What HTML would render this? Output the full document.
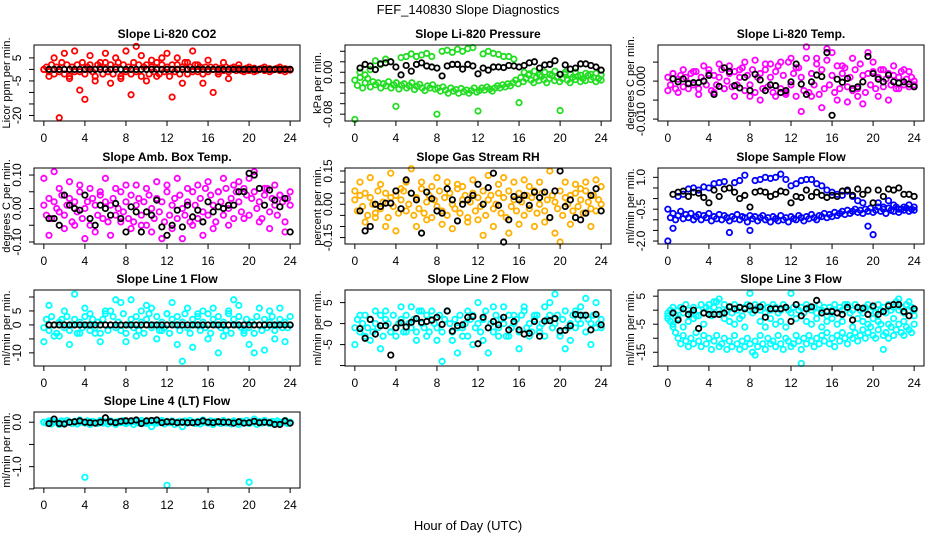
<!DOCTYPE html>
<html><head><meta charset="utf-8"><style>
html,body{margin:0;padding:0;background:#fff;}
svg{display:block;font-family:"Liberation Sans",Arial,sans-serif;}
</style></head><body>
<svg id="chart" width="936" height="540" viewBox="0 0 936 540" xmlns="http://www.w3.org/2000/svg">
<rect width="936" height="540" fill="#fff"/>
<text x="468" y="14" text-anchor="middle" font-size="13">FEF_140830  Slope Diagnostics</text>
<text x="468" y="530" text-anchor="middle" font-size="13">Hour of Day (UTC)</text>
</svg>
<script>
// x tick labels (hours)
const xTicks = [0,4,8,12,16,20,24];
// panel titles / y-axis titles
const titles = ["Slope Li-820 CO2","Slope Li-820 Pressure","Slope Li-820 Temp.","Slope Amb. Box Temp.","Slope Gas Stream RH","Slope Sample Flow","Slope Line 1 Flow","Slope Line 2 Flow","Slope Line 3 Flow","Slope Line 4 (LT) Flow"];
const yTitles = ["Licor ppm per min.","kPa per min.","degrees C per min.","degrees C per min.","percent per min.","ml/min per min.","ml/min per min.","ml/min per min.","ml/min per min.","ml/min per min."];
const yDomains = [[-22.4,10.6],[-0.093,0.052],[-0.0105,0.0095],[-0.106,0.121],[-0.179,0.1635],[-2.14,1.44],[-14.7,12.5],[-10.1,8.0],[-19.9,7.2],[-1.48,0.23]];
const yTicks = [[-20,-15,-10,-5,0,5],[-0.08,-0.06,-0.04,-0.02,0,0.02,0.04],[-0.01,-0.005,0,0.005],[-0.1,-0.05,0,0.05,0.1],[-0.15,-0.1,-0.05,0,0.05,0.1,0.15],[-2,-1.5,-1,-0.5,0,0.5,1],[-10,-5,0,5,10],[-10,-5,0,5],[-20,-15,-10,-5,0,5],[-1.5,-1,-0.5,0]];
const yTickLabelVals = [[5,-5,-20],[0,-0.08],[0,-0.01],[-0.1,0,0.1],[-0.15,0,0.15],[-2,-0.5,1],[-10,0,5],[-5,0,5],[-15,-5,5],[0,-1]];
const yTickLabelText = [["5","-5","-20"],["0.00","-0.08"],["0.000","-0.010"],["-0.10","0.00","0.10"],["-0.15","0.00","0.15"],["-2.0","-0.5","1.0"],["-10","0","5"],["-5","0","5"],["-15","-5","5"],["0.0","-1.0"]];
const colors = ["#ff0000","#22dd22","#ff00ff","#ff00ff","#ffb000","#0000ff","#00ffff","#00ffff","#00ffff","#00ffff"];

// coloured series: evenly spread over 0..24 h
const co2A=[0,1,-1,2,-2,1,-1,3,-2,2,-3,1,-1,2,-1,3,-2,1,2,-1,-3,2,1,-2,3,-1,2,-2,1,3,-3,2,-1,1,-2,3,-1,2,-3,1,2,-2,1,-1,3,-2,2,-1,1,-3,2,-1,2,-2,1,3,-2,1,-1,2,-1,1,-2,1,-1,1,0,1,-1,0.5,-0.5,1,-1,0.5,0,-0.5,0.5,-0.5,0,0.5,-0.5,0,0.5,-0.5,0,0.5,-0.5,0,0.3,-0.3,0,0.5,-0.5,0,0.3,0,-0.3];
const co2B=[0,-3,5,-21,7,-4,8,-9,-13,6,-5,3,7,-6,5,-4,8,-11,10,6,-5,4,-3,5,7,-12,5,-6,3,8,2,-6,4,-10,-2,3,-4,1,2,-1,1,-1,0,1,-1,0,1,-1,0];
const co2K=[0,0,0,0,0,0,0,0,0,0,0,0,0,0,0,0,0,0,0,0,0,0,0,0,0,0,0,0,0,0,0,0,0,0,0,0,0,0,0,0,0,0,0,0,0,0,0,0];
const presA=[-0.015,-0.025,-0.01,-0.03,-0.02,-0.012,-0.028,-0.018,-0.024,-0.02,-0.03,-0.022,-0.026,-0.018,-0.03,-0.024,-0.02,-0.032,-0.025,-0.022,-0.03,-0.026,-0.02,-0.033,-0.027,-0.023,-0.03,-0.035,-0.026,-0.03,-0.024,-0.032,-0.03,-0.036,-0.028,-0.034,-0.04,-0.03,-0.036,-0.033,-0.04,-0.031,-0.037,-0.034,-0.04,-0.035,-0.03,-0.038,-0.035,-0.03,-0.034,-0.028,-0.032,-0.036,-0.03,-0.026,-0.03,-0.024,-0.028,-0.022,-0.026,-0.02,-0.015,-0.022,-0.01,-0.018,-0.012,-0.005,-0.015,-0.02,-0.01,-0.016,-0.008,-0.014,-0.02,-0.012,-0.006,-0.016,-0.01,-0.018,-0.012,-0.004,-0.015,-0.02,-0.01,-0.014,-0.008,-0.018,-0.012,-0.016,-0.006,-0.014,-0.01,-0.018,-0.012,-0.015];
const presB=[-0.09,0.0,-0.005,0.005,0.022,0.015,0.025,0.02,-0.065,0.028,0.03,0.035,0.03,0.033,0.036,0.03,-0.08,0.04,0.042,0.038,0.044,0.04,0.045,0.047,-0.074,0.035,0.04,0.036,0.034,0.03,0.03,0.025,-0.058,0.0,-0.003,0.002,-0.005,0.0,-0.004,0.002,-0.073,0.0,-0.004,0.0,-0.006,-0.002,-0.004,-0.002,-0.005];
const presK=[0.008,0.015,0.012,0.005,0.016,0.018,0.02,0.01,-0.005,0.013,0.002,0.015,0.018,0.012,0.01,0.008,-0.007,0.012,0.015,0.015,0.006,0.015,0.012,-0.003,0.008,0.004,0.01,0.01,0.009,0.013,0.012,0.01,0.013,0.018,0.02,0.008,0.014,0.015,0.022,-0.004,0.014,0.006,0.008,0.016,0.016,0.013,0.01,0.004];
const tempA=[0.001,-0.001,0.002,-0.002,0.0005,0.0015,-0.0015,0.001,-0.0005,0.002,-0.001,0.0025,-0.002,0.001,0,-0.001,0.002,-0.0025,0.0015,-0.001,0.001,0.003,-0.002,0,0.002,-0.0015,0.0025,-0.001,0.001,0.0035,-0.0025,0.0015,-0.001,0.003,-0.003,0.001,0.002,-0.002,0.0045,-0.0015,0.001,-0.003,0.0025,0.004,-0.002,0.0015,-0.0035,0.005,-0.001,0.002,-0.004,0.0035,0.001,-0.0025,0.006,-0.003,0.002,-0.001,0.0045,-0.0035,0.003,-0.002,0.0055,-0.001,0.0015,-0.003,0.004,-0.002,0.002,0.0035,-0.0015,0.001,-0.0025,0.003,-0.002,0.0045,0.0015,-0.003,0.002,-0.001,0.0025,-0.002,0.001,0.003,-0.0015,0.0005,0.002,-0.001,0.0015,-0.002,0.001,0.0025,-0.001,0.0005,-0.0015,0.001,0];
const tempB=[-0.0025,0.002,-0.003,0.003,-0.002,0.0025,-0.0035,0.004,0.003,-0.003,0.0045,-0.002,0.004,-0.004,0.003,0.005,-0.004,0.0055,-0.005,0.003,0.0045,-0.004,0.005,-0.003,0.006,0.0035,-0.008,0.009,-0.004,0.006,-0.007,0.0085,0.0075,-0.005,0.004,-0.0055,0.006,-0.004,-0.006,0.0075,0.005,-0.004,0.003,-0.005,0.004,-0.002,0.003,0.0025,-0.001];
const tempK=[0.0006,-0.0002,0.0006,-0.0007,-0.0004,-0.0004,0,0.0015,-0.0035,-0.0014,0.0035,0.0025,-0.0012,-0.0018,0.001,-0.0025,0.0018,0.0003,-0.0025,-0.001,-0.0012,-0.003,-0.0025,-0.0002,0.0045,-0.0008,-0.0035,-0.0002,0.0016,0.0012,0.0075,-0.009,0.0005,-0.0003,0.0007,-0.002,-0.0015,-0.0002,0.0065,0.002,0.0005,-0.0002,0.0016,-0.0002,-0.0005,-0.0002,-0.0008,-0.0015];
const ambA=[0.01,-0.02,0.03,-0.03,0.02,0,-0.01,0.04,-0.02,0.01,0.03,-0.04,0.02,-0.01,0.05,-0.03,0,0.02,-0.05,0.03,0.01,-0.02,0.04,-0.03,0.02,-0.04,0.01,0.03,-0.02,0,0.05,-0.01,0.02,-0.03,0.04,-0.04,0.01,0.03,-0.02,0.02,-0.05,0.04,0,-0.03,0.03,-0.01,0.02,-0.04,0.05,-0.02,0.01,0.03,-0.03,0.04,0,-0.02,0.02,-0.04,0.05,0.01,-0.03,0.03,-0.01,0.06,-0.02,0.04,0.01,-0.04,0.05,0.02,-0.02,0.06,0,0.03,-0.03,0.05,0.02,-0.01,0.06,0.04,-0.02,0.03,0.05,0,0.02,-0.03,0.04,0.06,-0.01,0.03,0.01,-0.02,0.04,0.02,-0.04,0.03,0.01];
const ambB=[0.09,-0.08,0.11,0.06,-0.06,0.08,-0.05,0.07,-0.09,0.06,-0.07,0.05,0.09,-0.08,0.06,-0.04,0.07,-0.06,0.07,-0.05,0.06,-0.07,0.08,-0.09,0.07,-0.06,0.09,-0.09,0.06,-0.05,0.07,-0.08,0.08,-0.06,0.05,0.09,-0.05,0.07,0.08,-0.03,0.09,0.11,-0.04,0.06,-0.06,0.07,0.04,-0.07,0.05];
const ambK=[-0.03,-0.03,-0.05,0.04,0.01,0,-0.005,0.04,-0.03,-0.05,0.01,0,-0.02,0.015,-0.03,-0.07,0.005,-0.01,-0.07,-0.01,-0.02,0.025,-0.055,-0.08,-0.05,-0.005,-0.055,0.01,-0.025,-0.005,-0.04,0.02,-0.01,0.005,0,0.01,0.01,0.05,0.05,0.105,0.1,0.06,0.01,0.055,0.025,0.005,0.03,-0.07];
const rhA=[0.02,-0.03,0.04,-0.01,0.05,-0.05,0.03,0,-0.04,0.06,-0.02,0.01,0.05,-0.06,0.03,-0.01,0.04,-0.04,0.02,0.06,-0.03,0,0.05,-0.05,0.03,-0.02,0.07,-0.04,0.01,0.04,-0.06,0.02,-0.01,0.06,-0.03,0.03,-0.05,0.05,0,-0.02,0.07,-0.04,0.02,0.04,-0.06,0.01,0.05,-0.03,0.03,-0.01,0.06,-0.05,0.02,0.04,-0.02,0,0.05,-0.04,0.03,-0.06,0.06,-0.01,0.02,-0.03,0.05,0.01,-0.05,0.04,-0.02,0.03,0.06,-0.04,0,0.05,-0.03,0.02,-0.06,0.04,0.01,-0.02,0.06,-0.05,0.03,0,0.04,-0.03,0.05,-0.01,0.02,-0.04,0.06,0.01,-0.02,0.04,-0.03,0.02,0];
const rhB=[0.06,0.1,-0.08,0.12,-0.06,0.09,-0.1,0.14,-0.12,0.07,0.1,0.16,-0.1,0.1,-0.07,0.08,0.12,-0.09,0.1,-0.11,0.09,0.08,-0.08,0.11,-0.07,-0.14,0.13,-0.1,0.09,0.12,-0.13,0.1,-0.09,0.11,0.08,-0.1,0.1,-0.08,0.15,-0.13,-0.17,0.1,-0.09,0.09,0.07,0.1,-0.1,0.11,0.08];
const rhK=[-0.03,-0.12,-0.1,0,-0.01,0.005,0.005,0.06,-0.02,0.11,0.05,0.02,-0.13,0.055,0.025,-0.03,-0.04,0.07,0.02,-0.075,0,0.02,0.04,0.09,0,0.075,0.14,-0.005,-0.17,-0.07,0.035,0.02,0.04,-0.005,0.055,0.03,0.055,-0.06,0.06,0.15,-0.01,0.02,-0.06,-0.07,-0.04,0.04,0.07,-0.03];
const flowA=[-0.5,-0.9,-0.7,-1.0,-0.8,-0.6,-0.95,-0.75,-0.9,-0.7,-1.0,-0.85,-0.75,-1.0,-0.8,-0.9,-0.7,-1.05,-0.85,-0.95,-0.75,-1.0,-0.8,-0.9,-1.05,-0.85,-0.95,-0.75,-1.0,-0.85,-0.9,-1.1,-0.8,-0.95,-0.85,-1.05,-0.9,-0.8,-1.0,-0.9,-1.1,-0.85,-0.95,-1.05,-0.8,-1.0,-0.9,-1.1,-0.85,-0.95,-1.0,-0.8,-0.9,-1.05,-0.85,-0.95,-0.75,-0.9,-1.0,-0.8,-0.85,-0.7,-0.9,-0.75,-0.85,-0.65,-0.8,-0.7,-0.6,-0.75,-0.55,-0.7,-0.6,-0.5,-0.65,-0.55,-0.7,-0.5,-0.6,-0.45,-0.65,-0.55,-0.4,-0.6,-0.5,-0.7,-0.45,-0.55,-0.6,-0.4,-0.65,-0.5,-0.55,-0.45,-0.6,-0.5,-0.55];
const flowB=[-2.0,-1.4,0.1,0.2,0.45,0.5,0.4,0.55,0.5,0.7,0.75,0.8,-1.6,0.75,0.85,1.1,-1.5,0.85,0.9,1.0,0.95,1.0,1.15,0.9,0.6,0.7,0.85,0.9,0.9,0.7,0.6,0.4,0.3,0.2,0.15,0.35,0.1,-0.1,-0.2,-1.3,-1.7,-0.2,-0.4,-0.1,-0.3,-0.5,-0.4,-0.3,-0.4];
const flowK=[0.2,0.3,0.35,0.1,0.3,0.25,0.05,-0.2,0.4,0.1,0.45,0.5,0.3,0.0,0.15,-0.4,0.3,0.35,0.3,0.1,0.2,0.35,0.3,-0.2,0.1,0.05,0.4,0.1,0.3,0.15,0.05,0.15,0.1,0.35,0.4,0.15,0.45,0.2,0.4,-0.2,0.4,0.1,0.45,0.4,0.5,0.2,0.2,0.1];
const l1A=[-1,2,-2,3,0,-3,1,2,-1,3,-2,0,2,-3,1,-1,3,0,-2,2,-1,1,-3,2,4,-2,0,3,-1,1,-2,4,-3,0,2,-1,3,-2,1,-3,2,4,-1,0,3,-2,1,-1,4,-3,2,0,3,-2,1,4,-1,-3,2,0,3,-2,1,-1,4,-3,2,0,3,-1,1,-2,4,-3,2,0,3,-1,-2,2,-1,1,-3,3,0,-2,2,-1,1,3,-2,0,2,-1,1,-1,0];
const l1B=[-6,7,-4,-4,5,-7,11,-3,6,4,-3,-6,5,5,9,8,-6,9,-4,5,7,6,-5,-2,4,8,-7,-13,6,-8,4,5,-5,6,-10,-4,5,9,7,-3,-7,-10,6,-9,5,-5,6,-6,3];
const l1K=[0,0,0,0,0,0,0,0,0,0,0,0,0,0,0,0,0,0,0,0,0,0,0,0,0,0,0,0,0,0,0,0,0,0,0,0,0,0,0,0,0,0,0,0,0,0,0,0];
const l2A=[-1,1,-2,0,2,-1,1,-2,0,-1,2,-3,1,0,-2,2,-1,0,1,-2,2,0,-1,1,-2,3,0,-1,2,-2,1,0,-1,2,-2,1,3,0,-2,1,-1,2,-1,0,-3,1,2,-1,0,-2,1,3,-1,0,-2,2,-1,1,0,-3,2,-1,0,1,-2,2,3,-1,0,-2,1,2,-1,0,-3,1,2,-1,0,2,-2,1,3,-1,0,2,-1,1,0,2,-2,1,0,2,-1,0,1];
const l2B=[-5,2,-3,-4,3,-6,3,-2,-3,4,-2,4,-4,3,-3,3,-4,-9,3,-4,-7,-3,3,-5,5,-4,-7,4,-3,4,-3,2,-6,4,-3,2,-2,4,5,7,-3,-6,-4,3,4,6,-5,5,-1];
const l2K=[-1.2,-3.5,1,-2.5,-0.5,-0.5,-7.5,-1,0.2,-0.8,0.3,1.2,0.3,0.5,0.8,1.5,-0.2,3,-1.8,-0.5,-0.3,1.5,1.7,-4.8,1.5,-1,0.5,-0.3,1.5,-1.5,0.5,-1.5,-2.5,-2.3,0.5,-3,0.6,0.7,1.2,-1.7,-1.6,-0.5,2.2,2,2,-1.5,2.2,-0.3];
const l3A=[-1,0,1,-2,0,1,-1,2,0,-1,1,-2,0,2,-1,1,0,-2,1,3,0,-1,2,0,1,-1,2,0,1,-2,1,2,0,-1,2,1,0,2,-1,1,0,2,1,-1,0,2,1,0,-1,1,2,0,1,-1,2,1,0,1,-1,2,0,1,-2,1,0,2,-1,1,0,2,1,-1,0,2,1,0,-1,1,2,0,1,-1,2,0,1,-1,2,0,1,3,0,1,-1,2,0,1,0];
const l3B=[-3,-4,-6,-8,-10,-12,-9,-11,-13,-10,-12,-8,-11,-13,-9,-12,-10,-14,-11,-9,-13,-12,-10,-14,-11,-13,-9,-12,-14,-11,-13,-10,-12,-15,-11,-13,-9,-12,-14,-10,-12,-11,-13,-9,-12,-14,-10,-11,-13,-12,-9,-11,-14,-10,-12,-9,-11,-13,-10,-12,-9,-11,-8,-12,-10,-13,-9,-11,-8,-10,-12,-9,-10,-8,-11,-9,-7,-10,-8,-6,-9,-10,-7,-5,-9,-8,-10,-6,-9,-7,-5,-8,-9,-6,-7,-8,-5];
const l3C=[-2,-5,-3,-6,-4,-3,-2,-5,2,3,4,-3,-4,-5,-3,-6,6,-16,-4,-6,-3,-5,-4,-6,6,-3,-19,-4,-5,-3,-6,-4,-3,-5,-4,2,-6,-3,-4,-5,-3,-4,-14,-5,-3,4,-4,3,-2];
const l3K=[-1,-3.5,0.5,-1.5,0,-6.5,-1,-1.5,-1.5,-1.5,-1,1.2,0.5,1,0.5,1.5,0,1.2,-2.5,0.5,0.5,0.5,1,-4,2,-2,0.5,1.2,3.5,-1,-0.5,-0.5,-1,-1.5,1,-3.5,1,0.7,-1.5,1.5,-1.5,-0.5,1.5,2,2,-0.5,-2,0.5];
const l4A=[0,-0.02,0.03,-0.04,0.02,0,-0.05,0.03,-0.02,0.04,0,-0.03,0.02,-0.04,0.05,0,-0.02,0.03,-0.05,0.02,0,-0.03,0.04,-0.02,0.01,-0.04,0.03,0,-0.05,0.02,-0.01,0.04,-0.03,0,0.03,-0.05,0.02,-0.02,0.04,0,-0.03,0.02,-0.1,0.03,-0.02,0,0.04,-0.04,0.02,-0.01,0.03,-0.05,0,0.02,-0.1,0.03,-0.02,0.04,0,-0.03,0.02,-0.04,0.05,0,-0.02,0.03,-0.05,0.02,0,-0.03,0.04,-0.02,0.01,-0.04,0.03,0,-0.05,0.02,-0.01,0.04,-0.03,0,0.07,-0.05,0.02,-0.02,0.04,0,-0.03,0.02,-0.04,0.03,-0.02,0,0.04,-0.03,0];
const l4B=[0,0,0,0,0,0,0,0,-1.24,0,0,0,0,0,0,0,0,0,0,0,0,0,0,0,-1.42,0,0,0,0,0,0,0,0,0,0,0,0,0,0,0,-1.35,0,0,0,0,0,0,0,0];
const l4K=[-0.03,0.07,-0.03,-0.04,0,0.01,0.03,0,-0.01,-0.02,0,0.1,0.01,-0.01,0.02,0.03,0.03,0.05,-0.03,0.03,0.04,0.05,-0.01,0.01,0.01,-0.01,0,-0.01,-0.01,0,0.03,0,-0.01,0.01,0,0,-0.02,0.01,-0.02,-0.01,0.02,-0.01,0,-0.01,-0.05,-0.05,0.03,-0.02];

const coloured = [[co2A,co2B],[presA,presB],[tempA,tempB],[ambA,ambB],[rhA,rhB],[flowA,flowB],[l1A,l1B],[l2A,l2B],[l3A,l3B,l3C],[l4A,l4B]];
const black = [co2K,presK,tempK,ambK,rhK,flowK,l1K,l2K,l3K,l4K];
const panelIds = ["co2","pressure","licor-temp","amb-box-temp","gas-stream-rh","sample-flow","line1-flow","line2-flow","line3-flow","line4-flow"];

const NS="http://www.w3.org/2000/svg";
const svg=document.getElementById('chart');
function mk(tag,attrs,parent){const e=document.createElementNS(NS,tag);for(const k in attrs)e.setAttribute(k,attrs[k]);parent.appendChild(e);return e;}
const colL=[34,345,658], rowT=[45,168,290,412], W=266, H=76;
const X0=-0.96, X1=24.96;

titles.forEach((t,p)=>{
  const L=colL[p%3], T=rowT[Math.floor(p/3)], B=T+H;
  const [d0,d1]=yDomains[p];
  const xs=h=>L+(h-X0)/(X1-X0)*W;
  const ys=v=>B-(v-d0)/(d1-d0)*H;
  const g=mk('g',{},svg);
  
  
  const tt=mk('text',{x:L+W/2,y:T-7,'text-anchor':'middle','font-size':12,'font-weight':'bold'},g);
  tt.textContent=t;
  
  
  const yt=mk('text',{transform:`translate(${L-27},${T+H/2}) rotate(-90)`,'text-anchor':'middle','font-size':11,'dominant-baseline':'central'},g);
  yt.textContent=yTitles[p];
  
  
  // points
  const pts=mk('g',{fill:'none','stroke-width':1.8},g);
  
  
  coloured[p].forEach(arr=>{
    const step = 24/(arr.length-1);
    arr.forEach((v,i)=>{
      const c=mk('circle',{cx:xs(i*step),cy:ys(v),r:2.7,stroke:colors[p]},pts);
      
      
    });
  });
  black[p].forEach((v,i)=>{
    const c=mk('circle',{cx:xs(0.5+i*0.5),cy:ys(v),r:2.7,stroke:'#000'},pts);
    
    
  });
  // box
  const bx=mk('rect',{x:L,y:T,width:W,height:H,fill:'none',stroke:'#000','stroke-width':1},g);
  
  
  // x axis
  const xa=mk('g',{stroke:'#000','stroke-width':1},g);
  
  
  mk('line',{x1:xs(xTicks[0]),x2:xs(xTicks[xTicks.length-1]),y1:B,y2:B},xa);
  xTicks.forEach(h=>{
    mk('line',{x1:xs(h),x2:xs(h),y1:B,y2:B+5},xa);
    const tl=mk('text',{x:xs(h),y:B+21,'text-anchor':'middle','font-size':12,stroke:'none',fill:'#000'},g);
    tl.textContent=String(h);
    
    
  });
  // y axis
  const ya=mk('g',{stroke:'#000','stroke-width':1},g);
  
  
  const tk=yTicks[p];
  mk('line',{x1:L,x2:L,y1:ys(tk[0]),y2:ys(tk[tk.length-1])},ya);
  tk.forEach(v=>mk('line',{x1:L-5,x2:L,y1:ys(v),y2:ys(v)},ya));
  yTickLabelVals[p].forEach((v,i)=>{
    const tl=mk('text',{transform:`translate(${L-13},${ys(v)}) rotate(-90)`,'text-anchor':'middle','font-size':12},g);
    tl.textContent=yTickLabelText[p][i];
    
    
  });
});
</script>
</body></html>
